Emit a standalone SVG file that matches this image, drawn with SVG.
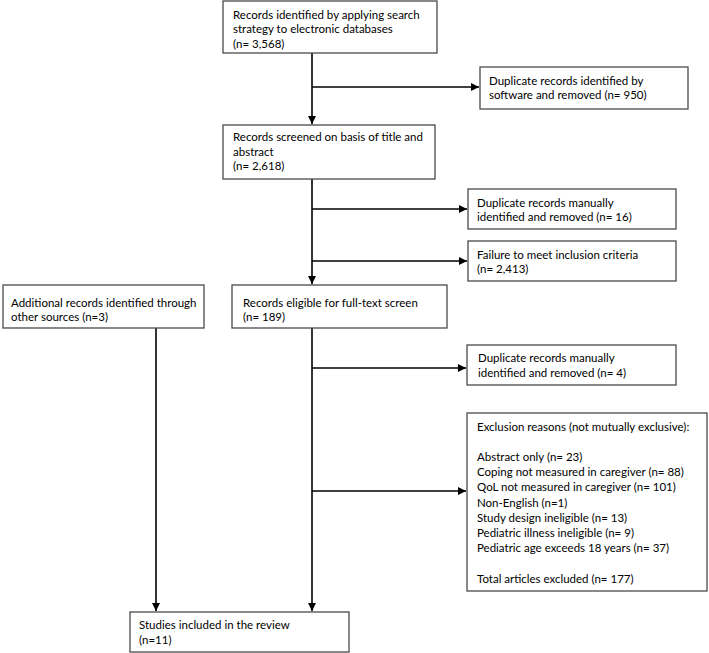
<svg xmlns="http://www.w3.org/2000/svg" width="709" height="653" viewBox="0 0 709 653">
<style>
  .box { fill: #ffffff; stroke: #4a4a4a; stroke-width: 1.3; }
  .t { font-family: Lato, "Liberation Sans", sans-serif; font-size: 11.5px; fill: #000; }
  .c { stroke: #000; stroke-width: 1.6; fill: none; }
</style>
<defs>
  <marker id="ah" viewBox="0 0 10 10" refX="10" refY="5" markerWidth="5" markerHeight="5" markerUnits="strokeWidth" orient="auto">
    <path d="M0,0 L10,5 L0,10 z" fill="#000"/>
  </marker>
</defs>
<rect width="709" height="653" fill="#fff"/>

<g id="connectors">
  <line class="c" x1="312" y1="53" x2="312" y2="124" marker-end="url(#ah)"/>
  <line class="c" x1="312" y1="87" x2="479" y2="87" marker-end="url(#ah)"/>
  <line class="c" x1="312" y1="179" x2="312" y2="284" marker-end="url(#ah)"/>
  <line class="c" x1="312" y1="209" x2="467" y2="209" marker-end="url(#ah)"/>
  <line class="c" x1="312" y1="261" x2="467" y2="261" marker-end="url(#ah)"/>
  <line class="c" x1="312" y1="328" x2="312" y2="611" marker-end="url(#ah)"/>
  <line class="c" x1="312" y1="368" x2="466" y2="368" marker-end="url(#ah)"/>
  <line class="c" x1="312" y1="491" x2="466" y2="491" marker-end="url(#ah)"/>
  <line class="c" x1="156" y1="328" x2="156" y2="611" marker-end="url(#ah)"/>
</g>

<g id="n1">
  <rect class="box" x="223" y="1" width="214" height="52"/>
  <text class="t" x="233" y="19">Records identified by applying search</text>
  <text class="t" x="233" y="33.3">strategy to electronic databases</text>
  <text class="t" x="233" y="47.6">(n= 3,568)</text>
</g>

<g id="n2">
  <rect class="box" x="480" y="67" width="208" height="42"/>
  <text class="t" x="489" y="85">Duplicate records identified by</text>
  <text class="t" x="489" y="99">software and removed (n= 950)</text>
</g>

<g id="n3">
  <rect class="box" x="223" y="125" width="212" height="54"/>
  <text class="t" x="233" y="141">Records screened on basis of title and</text>
  <text class="t" x="233" y="155.5">abstract</text>
  <text class="t" x="233" y="170">(n= 2,618)</text>
</g>

<g id="n4">
  <rect class="box" x="468" y="189" width="208" height="40"/>
  <text class="t" x="477" y="207">Duplicate records manually</text>
  <text class="t" x="477" y="221">identified and removed (n= 16)</text>
</g>

<g id="n5">
  <rect class="box" x="468" y="241" width="208" height="40"/>
  <text class="t" x="477" y="259">Failure to meet inclusion criteria</text>
  <text class="t" x="477" y="273">(n= 2,413)</text>
</g>

<g id="n6">
  <rect class="box" x="3" y="285" width="201" height="43"/>
  <text class="t" x="11" y="307">Additional records identified through</text>
  <text class="t" x="11" y="321">other sources (n=3)</text>
</g>

<g id="n7">
  <rect class="box" x="232" y="285" width="215" height="43"/>
  <text class="t" x="243" y="307">Records eligible for full-text screen</text>
  <text class="t" x="243" y="321">(n= 189)</text>
</g>

<g id="n8">
  <rect class="box" x="467" y="345" width="209" height="40"/>
  <text class="t" x="478" y="362">Duplicate records manually</text>
  <text class="t" x="478" y="377">identified and removed (n= 4)</text>
</g>

<g id="n9">
  <rect class="box" x="467" y="413" width="240" height="178"/>
  <text class="t" x="477" y="431">Exclusion reasons (not mutually exclusive):</text>
  <text class="t" x="477" y="461">Abstract only (n= 23)</text>
  <text class="t" x="477" y="476">Coping not measured in caregiver (n= 88)</text>
  <text class="t" x="477" y="491">QoL not measured in caregiver (n= 101)</text>
  <text class="t" x="477" y="507">Non-English (n=1)</text>
  <text class="t" x="477" y="522">Study design ineligible (n= 13)</text>
  <text class="t" x="477" y="537">Pediatric illness ineligible (n= 9)</text>
  <text class="t" x="477" y="552">Pediatric age exceeds 18 years (n= 37)</text>
  <text class="t" x="477" y="583">Total articles excluded (n= 177)</text>
</g>

<g id="n10">
  <rect class="box" x="130" y="612" width="219" height="40"/>
  <text class="t" x="139" y="629">Studies included in the review</text>
  <text class="t" x="139" y="644">(n=11)</text>
</g>
</svg>
